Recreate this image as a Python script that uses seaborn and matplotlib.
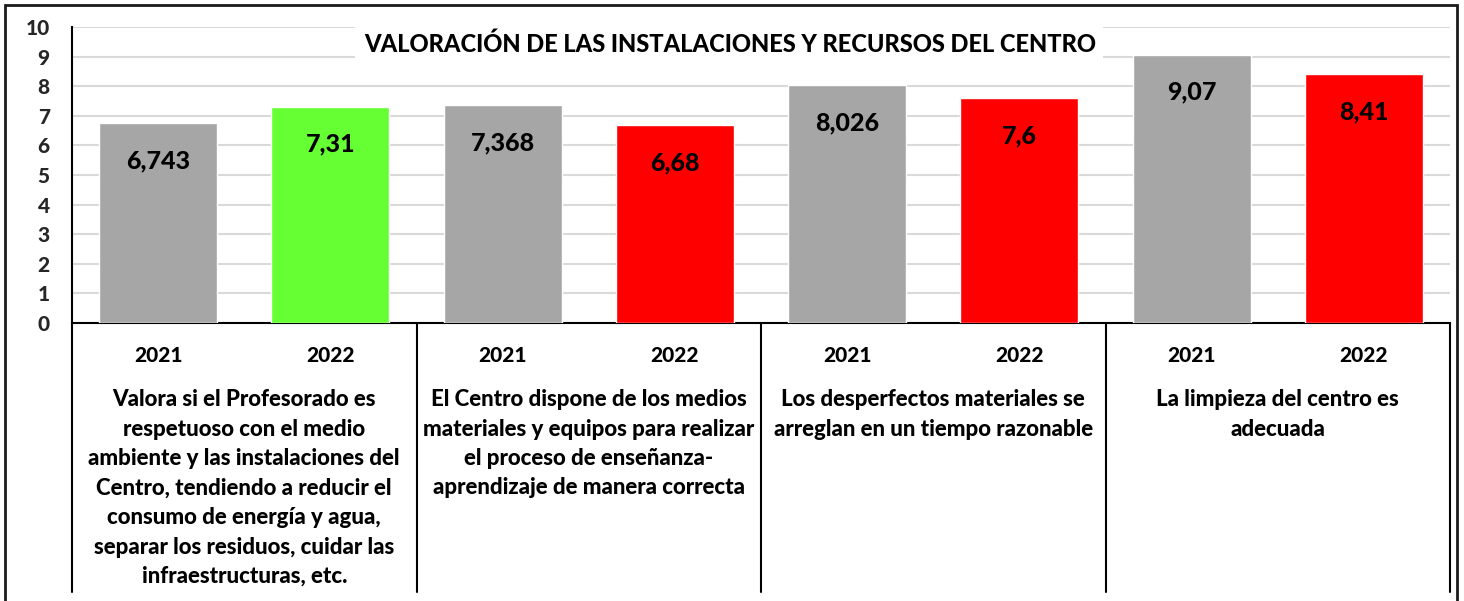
import matplotlib
matplotlib.use("Agg")
import matplotlib.pyplot as plt
import matplotlib.transforms as mtransforms
from matplotlib.patches import Rectangle
import pandas as pd
import seaborn as sns

sns.set_theme(style="white")
plt.rcParams['font.family'] = ['Lato', 'DejaVu Sans']
BOLD = 900

# data
groups = [
    "Valora si el Profesorado es\nrespetuoso con el medio\nambiente y las instalaciones del\n"
    "Centro, tendiendo a reducir el\nconsumo de energía y agua,\nseparar los residuos, cuidar las\n"
    "infraestructuras, etc.",
    "El Centro dispone de los medios\nmateriales y equipos para realizar\nel proceso de enseñanza-\n"
    "aprendizaje de manera correcta",
    "Los desperfectos materiales se\narreglan en un tiempo razonable",
    "La limpieza del centro es\nadecuada",
]
years = ["2021", "2022"]
values = [6.743, 7.31, 7.368, 6.68, 8.026, 7.6, 9.07, 8.41]
bar_colors = ["#A6A6A6", "#66FF33", "#A6A6A6", "#FF0000",
              "#A6A6A6", "#FF0000", "#A6A6A6", "#FF0000"]
title = "VALORACIÓN DE LAS INSTALACIONES Y RECURSOS DEL CENTRO"

W, H = 1464, 601
fig = plt.figure(figsize=(W / 100, H / 100), dpi=100)
ax = fig.add_axes([72 / W, 1 - 323 / H, (1450 - 72) / W, (323 - 27) / H])

ids = [f"{g}-{y}" for g in range(len(groups)) for y in years]
df = pd.DataFrame({"id": ids, "value": values})
sns.barplot(data=df, x="id", y="value", hue="id", palette=bar_colors,
            legend=False, width=0.686, ax=ax, saturation=1, zorder=3)

ax.set_xlim(-0.5, len(ids) - 0.5)
ax.set_ylim(0, 10)
ax.set_yticks(range(0, 11))
ax.set_yticklabels([str(i) for i in range(0, 11)], fontsize=15, fontweight=BOLD)
ax.tick_params(axis='y', length=0, pad=16)
ax.set_xticks([])
ax.set_xlabel("")
ax.set_ylabel("")
ax.grid(axis='y', color="#D9D9D9", linewidth=1.5, zorder=0)
ax.set_axisbelow(True)
for s in ["top", "right"]:
    ax.spines[s].set_visible(False)
for s in ["left", "bottom"]:
    ax.spines[s].set_color("black")
    ax.spines[s].set_linewidth(1.5)

# value labels inside bars
for i, v in enumerate(values):
    ax.annotate(str(v).replace(".", ","), (i, v), xytext=(0, -27),
                textcoords="offset points", ha="center", va="center",
                fontsize=18, fontweight=BOLD, color="black", zorder=5)

# category table below axis
tr = mtransforms.blended_transform_factory(ax.transData, fig.transFigure)
for i, yr in enumerate(years * len(groups)):
    ax.text(i, 1 - 355 / H, yr, transform=tr, ha="center", va="center",
            fontsize=15, fontweight=BOLD, color="black")
for g, txt in enumerate(groups):
    ax.text(2 * g + 0.5, 1 - 389 / H, txt, transform=tr, ha="center", va="top",
            fontsize=16, fontweight=BOLD, color="black", linespacing=1.5,
            multialignment="center")
for xs in [-0.5, 1.5, 3.5, 5.5, 7.5]:
    ax.plot([xs, xs], [1 - 323 / H, 1 - 592 / H], transform=tr, color="black",
            linewidth=1.5, clip_on=False)

# title with white box over gridlines
fig.patches.append(Rectangle((355 / W, 1 - 59 / H), (1103 - 355) / W, 35 / H,
                             transform=fig.transFigure, facecolor="white",
                             edgecolor="none", zorder=2))
fig.text(730 / W, 1 - 44 / H, title, ha="center", va="center", fontsize=17,
         fontweight=BOLD, color="black", zorder=3)

# outer border
fig.patches.append(Rectangle((5 / W, -0.05), (1457 - 5) / W, 1.05 - 5 / H,
                             transform=fig.transFigure, fill=False,
                             edgecolor="#1a1a1a", linewidth=2, zorder=4))

fig.savefig("out.png", dpi=100)
